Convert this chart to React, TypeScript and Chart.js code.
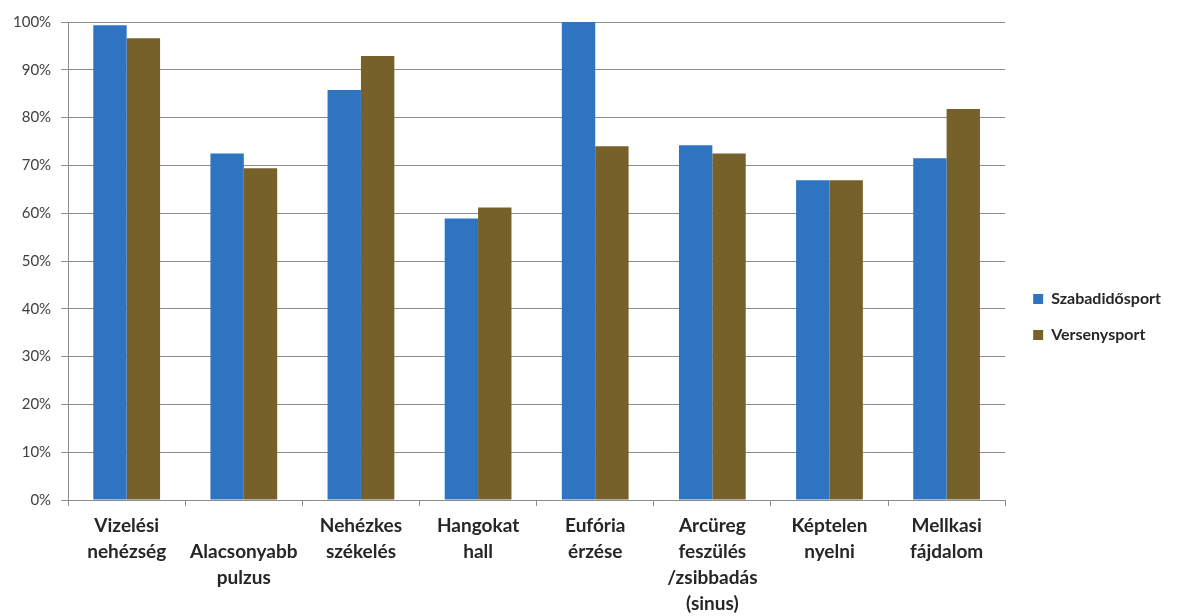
import React, { useEffect, useRef } from "react";
import { Chart, registerables } from "chart.js";

Chart.register(...registerables);

const categories: (string | string[])[] = [
  ["Vizelési", "nehézség"],
  ["", "Alacsonyabb", "pulzus"],
  ["Nehézkes", "székelés"],
  ["Hangokat", "hall"],
  ["Eufória", "érzése"],
  ["Arcüreg", "feszülés", "/zsibbadás", "(sinus)"],
  ["Képtelen", "nyelni"],
  ["Mellkasi", "fájdalom"],
];

const seriesNames = ["Szabadidősport", "Versenysport"];
const szabadido = [99.3, 72.5, 85.8, 58.9, 100, 74.2, 66.9, 71.5];
const verseny = [96.6, 69.4, 92.9, 61.2, 74.0, 72.5, 66.9, 81.8];

const yTicks = [0, 10, 20, 30, 40, 50, 60, 70, 80, 90, 100];

const legendShift = {
  id: "legendShift",
  afterLayout(chart: any) {
    const lg = chart.legend;
    if (lg) {
      lg.left += 8;
      lg.right += 8;
      lg.top -= 6;
      lg.bottom -= 6;
    }
  },
};

export default function App() {
  const ref = useRef<HTMLCanvasElement | null>(null);

  useEffect(() => {
    document.body.style.margin = "0";
    const canvas = ref.current;
    if (!canvas) return;
    const chart = new Chart(canvas, {
      type: "bar",
      data: {
        labels: categories,
        datasets: [
          {
            label: seriesNames[0],
            data: szabadido,
            backgroundColor: "#2E74C0",
            barPercentage: 1,
            categoryPercentage: 0.57,
          },
          {
            label: seriesNames[1],
            data: verseny,
            backgroundColor: "#77612A",
            barPercentage: 1,
            categoryPercentage: 0.57,
          },
        ],
      },
      plugins: [legendShift],
      options: {
        responsive: false,
        animation: false,
        layout: { padding: { top: 22, left: 3, right: 19, bottom: -8 } },
        plugins: {
          tooltip: { enabled: false },
          legend: {
            position: "right",
            align: "center",
            labels: {
              boxWidth: 10,
              boxHeight: 10,
              padding: 20,
              color: "#262626",
              font: { family: "Lato", size: 16, weight: "bold" },
            },
          },
        },
        scales: {
          x: {
            grid: {
              offset: true,
              drawOnChartArea: false,
              drawTicks: true,
              tickLength: 6,
              color: "#8c8c8c",
            },
            border: { color: "#8c8c8c", width: 1 },
            ticks: {
              color: "#262626",
              padding: 7,
              maxRotation: 0,
              autoSkip: false,
              font: { family: "Lato", size: 19, weight: "bold", lineHeight: "26px" },
            },
          },
          y: {
            min: 0,
            max: 100,
            afterBuildTicks: (axis: any) => {
              axis.ticks = yTicks.map((v) => ({ value: v }));
            },
            grid: {
              color: "#8c8c8c",
              tickLength: 7,
              drawTicks: true,
            },
            border: { color: "#8c8c8c", width: 1 },
            ticks: {
              color: "#404040",
              padding: 10,
              font: { family: "Lato", size: 15 },
              callback: (v: any) => v + "%",
            },
          },
        },
      },
    });
    return () => chart.destroy();
  }, []);

  return (
    <div style={{ width: 1182, height: 616, position: "relative" }}>
      <canvas ref={ref} width={1182} height={616} style={{ display: "block" }} />
    </div>
  );
}
